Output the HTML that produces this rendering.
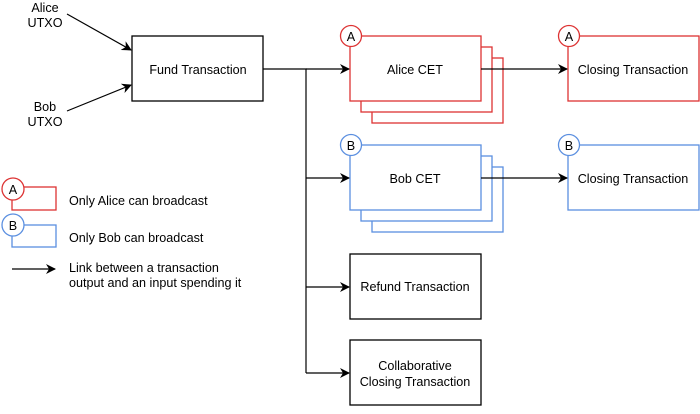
<!DOCTYPE html>
<html><head><style>body{margin:0;background:#fff}</style></head><body>
<svg width="700" height="409" viewBox="0 0 700 409" xmlns="http://www.w3.org/2000/svg" font-family="Liberation Sans, sans-serif" font-size="12.6">
<defs><marker id="ar" viewBox="0 0 10 10" refX="9" refY="5" markerWidth="10" markerHeight="10" orient="auto" markerUnits="userSpaceOnUse"><path d="M0,0 L10,5 L0,10 L3,5 z" fill="#000"/></marker></defs>
<g fill="#fff" stroke-width="1.3">
<rect x="372" y="58" width="131" height="65" stroke="#d33"/>
<rect x="361" y="47" width="131" height="65" stroke="#d33"/>
<rect x="350" y="36" width="131" height="65" stroke="#d33"/>
<rect x="568" y="36" width="131" height="65" stroke="#d33"/>
<rect x="372" y="167" width="131" height="65" stroke="#5b8fe0"/>
<rect x="361" y="156" width="131" height="65" stroke="#5b8fe0"/>
<rect x="350" y="145" width="131" height="65" stroke="#5b8fe0"/>
<rect x="568" y="145" width="131" height="65" stroke="#5b8fe0"/>
<rect x="132" y="36" width="131" height="65" stroke="#000"/>
<rect x="350" y="254" width="131" height="65" stroke="#000"/>
<rect x="350" y="340" width="131" height="65" stroke="#000"/>
<rect x="12" y="187" width="44" height="23" stroke="#d33"/>
<rect x="12" y="225" width="44" height="22" stroke="#5b8fe0"/>
<circle cx="351" cy="36" r="10.5" stroke="#d33"/>
<circle cx="569" cy="36" r="10.5" stroke="#d33"/>
<circle cx="351" cy="145" r="10.5" stroke="#5b8fe0"/>
<circle cx="569" cy="145" r="10.5" stroke="#5b8fe0"/>
<circle cx="13" cy="189" r="11" stroke="#d33"/>
<circle cx="13" cy="225" r="11" stroke="#5b8fe0"/>
</g>
<g stroke="#000" stroke-width="1.2" fill="none">
<line x1="67" y1="14" x2="131" y2="50" marker-end="url(#ar)"/>
<line x1="67" y1="111" x2="131" y2="85" marker-end="url(#ar)"/>
<path d="M263 69 H306 V373"/>
<line x1="306" y1="69" x2="349" y2="69" marker-end="url(#ar)"/>
<line x1="306" y1="178" x2="349" y2="178" marker-end="url(#ar)"/>
<line x1="306" y1="287" x2="349" y2="287" marker-end="url(#ar)"/>
<line x1="306" y1="373" x2="349" y2="373" marker-end="url(#ar)"/>
<line x1="481" y1="69" x2="567" y2="69" marker-end="url(#ar)"/>
<line x1="481" y1="178" x2="567" y2="178" marker-end="url(#ar)"/>
<line x1="12" y1="269" x2="55" y2="269" marker-end="url(#ar)"/>
</g>
<g fill="#000" text-anchor="middle">
<text x="45" y="12">Alice</text><text x="45" y="27">UTXO</text>
<text x="45" y="111">Bob</text><text x="45" y="126">UTXO</text>
<text x="198" y="74">Fund Transaction</text>
<text x="415" y="74">Alice CET</text>
<text x="633" y="74">Closing Transaction</text>
<text x="415" y="183">Bob CET</text>
<text x="633" y="183">Closing Transaction</text>
<text x="415" y="291">Refund Transaction</text>
<text x="415" y="370">Collaborative</text>
<text x="415" y="386">Closing  Transaction</text>
<text x="351" y="41">A</text><text x="569" y="41">A</text>
<text x="351" y="150">B</text><text x="569" y="150">B</text>
<text x="13" y="194">A</text><text x="13" y="230">B</text>
</g>
<g fill="#000">
<text x="69" y="205">Only Alice can broadcast</text>
<text x="69" y="242">Only Bob can broadcast</text>
<text x="69" y="272">Link between a transaction</text>
<text x="69" y="287">output and an input spending it</text>
</g>
</svg>
</body></html>
